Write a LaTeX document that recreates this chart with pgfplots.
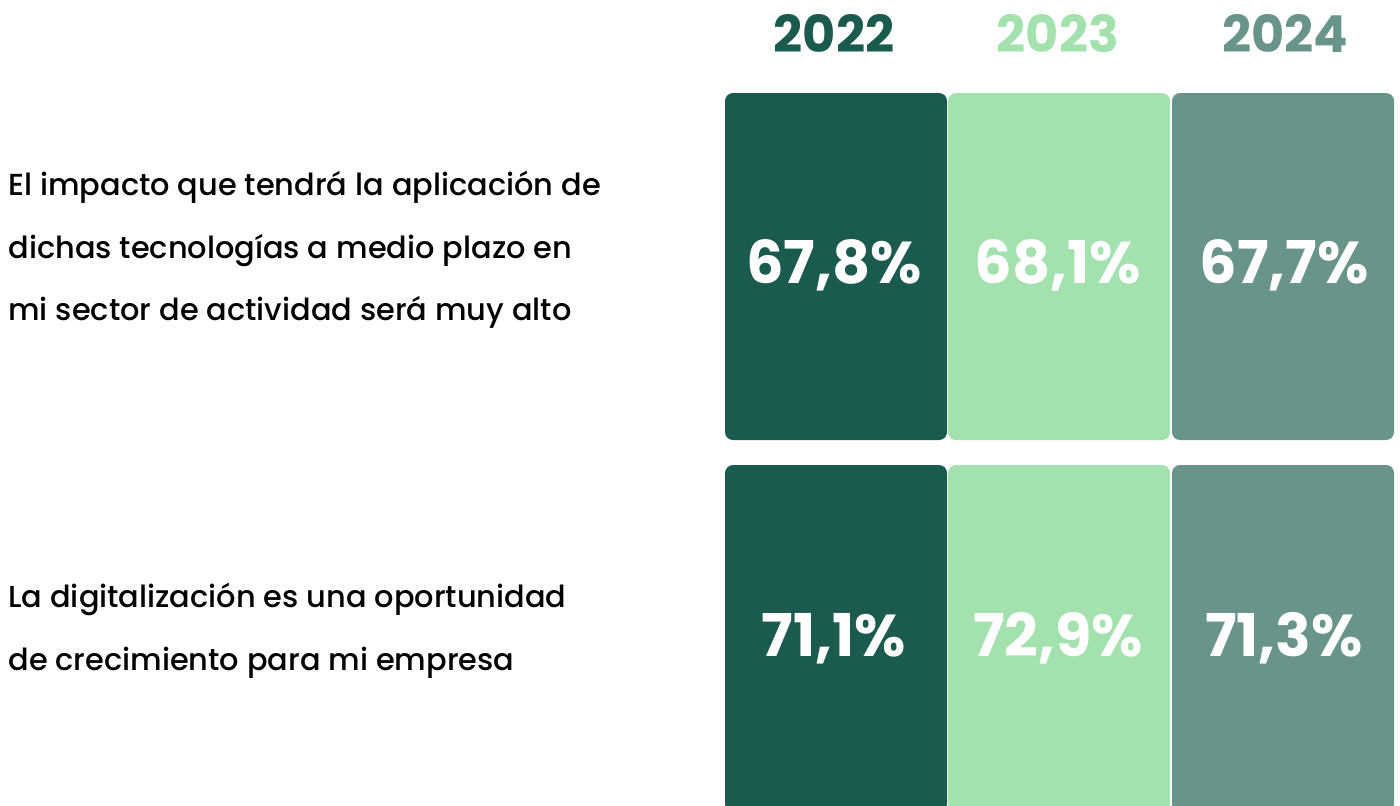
\documentclass[border=0pt]{standalone}
\usepackage{fontspec}
\setmainfont{Poppins}
\newfontfamily\popmed{Poppins Medium}
\newfontfamily\popbold{Poppins Bold}
\usepackage{pgfplots}
\pgfplotsset{compat=1.18}
\definecolor{cA}{HTML}{1B5A4F}
\definecolor{cB}{HTML}{A3E2AE}
\definecolor{cC}{HTML}{68948A}
\begin{document}
\begin{tikzpicture}
\begin{axis}[
  at={(0,0)}, anchor=south west,
  scale only axis, width=700pt, height=402.5pt,
  xmin=0, xmax=1400, ymin=0, ymax=805, y dir=reverse,
  hide axis, clip=true,
  /pgf/number format/use comma,
  /pgf/number format/fixed,
  /pgf/number format/fixed zerofill,
  /pgf/number format/precision=1,
  /pgf/number format/assume math mode=true,
]
% top row cells
\addplot[draw=none, fill=cA, rounded corners=4pt] coordinates {(836,93)(947,93)(947,440)(725,440)(725,93)} -- cycle;
\addplot[draw=none, fill=cB, rounded corners=4pt] coordinates {(1059,93)(1170,93)(1170,440)(948,440)(948,93)} -- cycle;
\addplot[draw=none, fill=cC, rounded corners=4pt] coordinates {(1283,93)(1394,93)(1394,440)(1172,440)(1172,93)} -- cycle;
% bottom row cells
\addplot[draw=none, fill=cA, rounded corners=4pt] coordinates {(836,465)(947,465)(947,812)(725,812)(725,465)} -- cycle;
\addplot[draw=none, fill=cB, rounded corners=4pt] coordinates {(1059,465)(1170,465)(1170,812)(948,812)(948,465)} -- cycle;
\addplot[draw=none, fill=cC, rounded corners=4pt] coordinates {(1283,465)(1394,465)(1394,812)(1172,812)(1172,465)} -- cycle;
% values
\addplot[draw=none, mark=none, point meta=explicit,
  nodes near coords={\pgfmathprintnumber{\pgfplotspointmeta}\%},
  nodes near coords style={anchor=base, text=white, inner sep=0pt, font=\popbold\fontsize{29.5}{29.5}\selectfont}]
  coordinates {(834,283)[67.8] (1058,283)[68.1] (1284,283)[67.7]
               (834,656)[71.1] (1058,656)[72.9] (1284,656)[71.3]};
% headers
\node[anchor=base, inner sep=0pt, text=cA, font=\popbold\fontsize{25.5}{25.5}\selectfont] at (axis cs:834,52) {2022};
\node[anchor=base, inner sep=0pt, text=cB, font=\popbold\fontsize{25.5}{25.5}\selectfont] at (axis cs:1058,52) {2023};
\node[anchor=base, inner sep=0pt, text=cC, font=\popbold\fontsize{25.5}{25.5}\selectfont] at (axis cs:1285,52) {2024};
% row labels
\node[anchor=base west, inner sep=0pt, font=\popmed\fontsize{15.2}{15.2}\selectfont] at (axis cs:8,195) {El impacto que tendrá la aplicación de};
\node[anchor=base west, inner sep=0pt, font=\popmed\fontsize{15.2}{15.2}\selectfont] at (axis cs:8,258) {dichas tecnologías a medio plazo en};
\node[anchor=base west, inner sep=0pt, font=\popmed\fontsize{15.2}{15.2}\selectfont] at (axis cs:8,320) {mi sector de actividad será muy alto};
\node[anchor=base west, inner sep=0pt, font=\popmed\fontsize{15.2}{15.2}\selectfont] at (axis cs:8,607) {La digitalización es una oportunidad};
\node[anchor=base west, inner sep=0pt, font=\popmed\fontsize{15.2}{15.2}\selectfont] at (axis cs:8,670) {de crecimiento para mi empresa};
\end{axis}
\pgfresetboundingbox
\path (0,0) rectangle (700pt,402.5pt);
\end{tikzpicture}
\end{document}
